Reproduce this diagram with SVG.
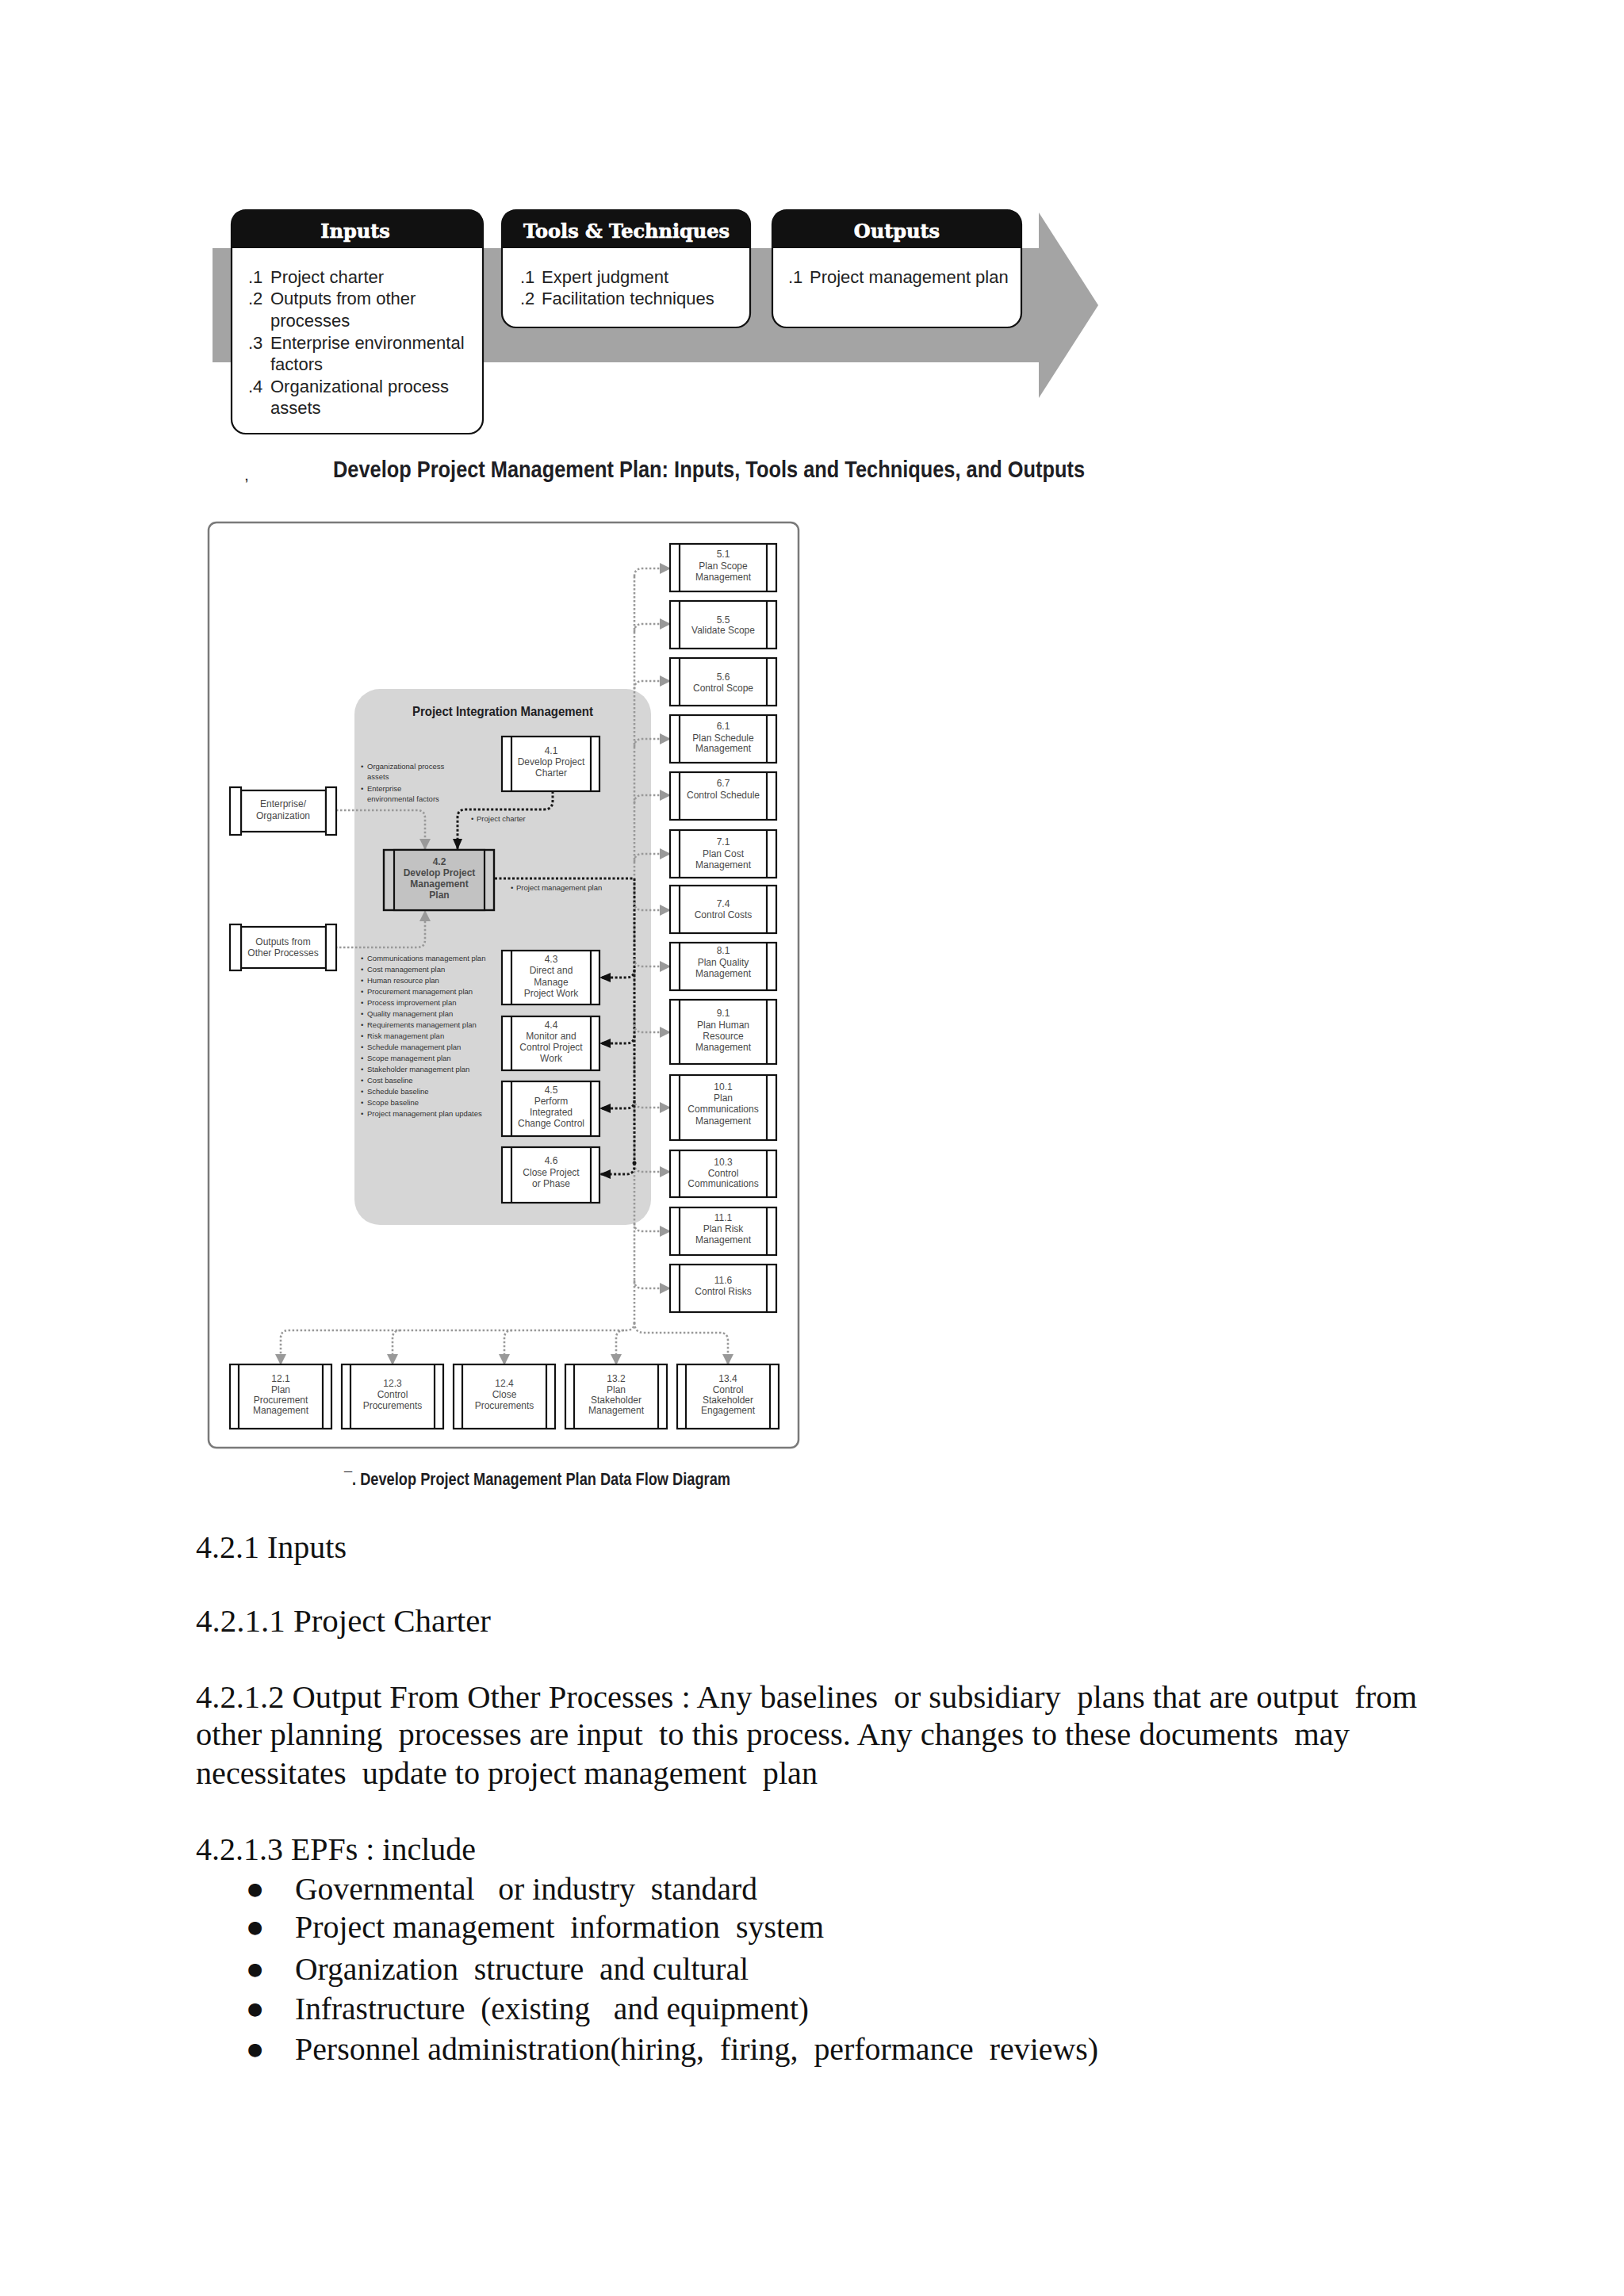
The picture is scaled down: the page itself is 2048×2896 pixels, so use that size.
<svg xmlns="http://www.w3.org/2000/svg" width="2048" height="2896" viewBox="0 0 2048 2896">
<style>
.hdr{font-family:"DejaVu Serif",serif;font-weight:bold;font-size:24px;fill:#fff;stroke:#fff;stroke-width:0.7;text-anchor:middle}
.ito{font-family:"Liberation Sans",Arial,sans-serif;font-size:22px;fill:#222}
.cap{font-family:"Liberation Sans",Arial,sans-serif;font-weight:bold;fill:#1e1e24}
.box{fill:#fff;stroke:#111;stroke-width:2.2}
.bar{stroke:#111;stroke-width:2.2}
.bt{font-family:"Liberation Sans",Arial,sans-serif;font-size:12px;fill:#4a4a4a;text-anchor:middle}
.lb{font-family:"Liberation Sans",Arial,sans-serif;font-size:9.5px;fill:#333}
.gd{fill:none;stroke:#999;stroke-width:2.6;stroke-dasharray:2.5 2.5}
.bd{fill:none;stroke:#1a1a1a;stroke-width:3;stroke-dasharray:3 2.5}
.body{font-family:"Liberation Serif","Times New Roman",serif;font-size:39px;fill:#111;white-space:pre}
.bul{font-family:"DejaVu Sans",sans-serif;font-size:22px;fill:#111}
</style>
<defs>
<marker id="ag" markerUnits="userSpaceOnUse" markerWidth="14" markerHeight="14" refX="13" refY="7" orient="auto"><path d="M0,0 L14,7 L0,14 Z" fill="#999"/></marker>
<marker id="ab" markerUnits="userSpaceOnUse" markerWidth="14" markerHeight="14" refX="13" refY="7" orient="auto"><path d="M0,1 L14,7 L0,13 Z" fill="#111"/></marker>
</defs>
<rect width="2048" height="2896" fill="#fff"/>

<!-- ITO diagram -->
<g id="ito-arrow">
<rect x="268" y="313" width="1045" height="144" fill="#a4a4a4"/>
<polygon points="1310,268 1385,385 1310,502" fill="#a4a4a4"/>
</g>
<g id="ito-inputs">
<rect x="292" y="265" width="317" height="282" rx="18" class="box" stroke-width="2.5"/>
<path d="M292,313 V283 Q292,265 310,265 H591 Q609,265 609,283 V313 Z" fill="#111"/>
<text x="448" y="300" class="hdr">Inputs</text>
<text class="ito"><tspan x="313" y="357">.1</tspan><tspan x="341" y="357">Project charter</tspan><tspan x="313" y="384">.2</tspan><tspan x="341" y="384">Outputs from other</tspan><tspan x="341" y="412">processes</tspan><tspan x="313" y="440">.3</tspan><tspan x="341" y="440">Enterprise environmental</tspan><tspan x="341" y="467">factors</tspan><tspan x="313" y="495">.4</tspan><tspan x="341" y="495">Organizational process</tspan><tspan x="341" y="522">assets</tspan></text>
</g>
<g id="ito-tools">
<rect x="633" y="265" width="313" height="148" rx="18" class="box" stroke-width="2.5"/>
<path d="M633,313 V283 Q633,265 651,265 H928 Q946,265 946,283 V313 Z" fill="#111"/>
<text x="790" y="300" class="hdr">Tools &amp; Techniques</text>
<text class="ito"><tspan x="656" y="357">.1</tspan><tspan x="683" y="357">Expert judgment</tspan><tspan x="656" y="384">.2</tspan><tspan x="683" y="384">Facilitation techniques</tspan></text>
</g>
<g id="ito-outputs">
<rect x="974" y="265" width="314" height="148" rx="18" class="box" stroke-width="2.5"/>
<path d="M974,313 V283 Q974,265 992,265 H1270 Q1288,265 1288,283 V313 Z" fill="#111"/>
<text x="1131" y="300" class="hdr">Outputs</text>
<text class="ito"><tspan x="994" y="357">.1</tspan><tspan x="1021" y="357">Project management plan</tspan></text>
</g>
<text x="309" y="606" class="cap" font-size="14">,</text>
<text x="420" y="602" class="cap" font-size="30" textLength="948" lengthAdjust="spacingAndGlyphs">Develop Project Management Plan: Inputs, Tools and Techniques, and Outputs</text>

<!-- Data flow diagram -->
<rect id="dfd-frame" x="263" y="659" width="744" height="1167" rx="10" fill="#fff" stroke="#7a7a7a" stroke-width="2.5"/>
<g id="pim-region">
<rect x="447" y="869" width="374" height="676" rx="32" fill="#d6d6d6"/>
<text x="520" y="903" class="cap" font-size="17" textLength="228" lengthAdjust="spacingAndGlyphs" fill="#333">Project Integration Management</text>
</g>

<g id="connectors">
<path class="gd" d="M424,1022 H526 Q536,1022 536,1032 V1071" marker-end="url(#ag)"/>
<path class="gd" d="M423,1195 H526 Q536,1195 536,1185 V1149" marker-end="url(#ag)"/>
<path class="bd" d="M697,998 V1010 Q697,1021 686,1021 H587 Q577,1021 577,1031 V1071" marker-end="url(#ab)"/>
<path class="gd" d="M800,727 V1672"/>
<path class="bd" d="M624,1108 H800 V1467"/>
<circle cx="800" cy="1467" r="2.5" fill="#111"/>
<path class="gd" d="M800,727 Q800,717 810,717 H845" marker-end="url(#ag)"/>
<path class="gd" d="M800,797 Q800,787 810,787 H845" marker-end="url(#ag)"/>
<path class="gd" d="M800,869 Q800,859 810,859 H845" marker-end="url(#ag)"/>
<path class="gd" d="M800,942 Q800,932 810,932 H845" marker-end="url(#ag)"/>
<path class="gd" d="M800,1013 Q800,1003 810,1003 H845" marker-end="url(#ag)"/>
<path class="gd" d="M800,1087 Q800,1077 810,1077 H845" marker-end="url(#ag)"/>
<path class="gd" d="M800,1138 Q800,1148 810,1148 H845" marker-end="url(#ag)"/>
<path class="gd" d="M800,1209 Q800,1219 810,1219 H845" marker-end="url(#ag)"/>
<path class="gd" d="M800,1292 Q800,1302 810,1302 H845" marker-end="url(#ag)"/>
<path class="gd" d="M800,1387 Q800,1397 810,1397 H845" marker-end="url(#ag)"/>
<path class="gd" d="M800,1468 Q800,1478 810,1478 H845" marker-end="url(#ag)"/>
<path class="gd" d="M800,1543 Q800,1553 810,1553 H845" marker-end="url(#ag)"/>
<path class="gd" d="M800,1615 Q800,1625 810,1625 H845" marker-end="url(#ag)"/>
<path class="bd" d="M800,1223 Q800,1233 790,1233 H757" marker-end="url(#ab)"/>
<path class="bd" d="M800,1306 Q800,1316 790,1316 H757" marker-end="url(#ab)"/>
<path class="bd" d="M800,1388 Q800,1398 790,1398 H757" marker-end="url(#ab)"/>
<path class="bd" d="M800,1467 V1471 Q800,1481 790,1481 H757" marker-end="url(#ab)"/>
<path class="gd" d="M800,1668 Q800,1678 790,1678 H364 Q354,1678 354,1688 V1721" marker-end="url(#ag)"/>
<path class="gd" d="M505,1678 Q495,1678 495,1688 V1721" marker-end="url(#ag)"/>
<path class="gd" d="M646,1678 Q636,1678 636,1688 V1721" marker-end="url(#ag)"/>
<path class="gd" d="M787,1678 Q777,1678 777,1688 V1721" marker-end="url(#ag)"/>
<path class="gd" d="M800,1668 Q800,1681 812,1681 H908 Q918,1681 918,1691 V1721" marker-end="url(#ag)"/>
</g>

<g id="flow-labels">
<text class="lb"><tspan x="455" y="970">•</tspan><tspan x="463" y="970">Organizational process</tspan><tspan x="463" y="983">assets</tspan><tspan x="455" y="998">•</tspan><tspan x="463" y="998">Enterprise</tspan><tspan x="463" y="1011">environmental factors</tspan></text>
<text class="lb"><tspan x="594" y="1036">•</tspan><tspan x="601" y="1036">Project charter</tspan></text>
<text class="lb"><tspan x="644" y="1123">•</tspan><tspan x="651" y="1123">Project management plan</tspan></text>
<text class="lb">
<tspan x="455" y="1212">•</tspan><tspan x="463" y="1212">Communications management plan</tspan>
<tspan x="455" y="1226">•</tspan><tspan x="463" y="1226">Cost management plan</tspan>
<tspan x="455" y="1240">•</tspan><tspan x="463" y="1240">Human resource plan</tspan>
<tspan x="455" y="1254">•</tspan><tspan x="463" y="1254">Procurement management plan</tspan>
<tspan x="455" y="1268">•</tspan><tspan x="463" y="1268">Process improvement plan</tspan>
<tspan x="455" y="1282">•</tspan><tspan x="463" y="1282">Quality management plan</tspan>
<tspan x="455" y="1296">•</tspan><tspan x="463" y="1296">Requirements management plan</tspan>
<tspan x="455" y="1310">•</tspan><tspan x="463" y="1310">Risk management plan</tspan>
<tspan x="455" y="1324">•</tspan><tspan x="463" y="1324">Schedule management plan</tspan>
<tspan x="455" y="1338">•</tspan><tspan x="463" y="1338">Scope management plan</tspan>
<tspan x="455" y="1352">•</tspan><tspan x="463" y="1352">Stakeholder management plan</tspan>
<tspan x="455" y="1366">•</tspan><tspan x="463" y="1366">Cost baseline</tspan>
<tspan x="455" y="1380">•</tspan><tspan x="463" y="1380">Schedule baseline</tspan>
<tspan x="455" y="1394">•</tspan><tspan x="463" y="1394">Scope baseline</tspan>
<tspan x="455" y="1408">•</tspan><tspan x="463" y="1408">Project management plan updates</tspan>
</text>
</g>

<g id="ent-enterprise">
<rect x="304" y="997" width="107" height="52" class="box"/>
<rect x="290" y="993" width="14" height="60" class="box"/>
<rect x="411" y="993" width="13" height="60" class="box"/>
<text class="bt"><tspan x="357" y="1018">Enterprise/</tspan><tspan x="357" y="1033">Organization</tspan></text>
</g>
<g id="ent-outputs">
<rect x="304" y="1169" width="107" height="52" class="box"/>
<rect x="290" y="1166" width="14" height="58" class="box"/>
<rect x="411" y="1166" width="13" height="58" class="box"/>
<text class="bt"><tspan x="357" y="1192">Outputs from</tspan><tspan x="357" y="1206">Other Processes</tspan></text>
</g>

<g id="p4-1"><rect x="633" y="929" width="123" height="69" class="box"/><line x1="645" y1="929" x2="645" y2="998" class="bar"/><line x1="745" y1="929" x2="745" y2="998" class="bar"/>
<text class="bt"><tspan x="695" y="951">4.1</tspan><tspan x="695" y="965">Develop Project</tspan><tspan x="695" y="979">Charter</tspan></text></g>
<g id="p4-2"><rect x="484" y="1072" width="139" height="76" fill="#cdcdcd" stroke="#111" stroke-width="2.4"/><rect x="497" y="1072" width="114" height="76" fill="#c2c2c2" stroke="#111" stroke-width="2.2"/>
<text class="bt" font-weight="bold" fill="#333"><tspan x="554" y="1091">4.2</tspan><tspan x="554" y="1105">Develop Project</tspan><tspan x="554" y="1119">Management</tspan><tspan x="554" y="1133">Plan</tspan></text></g>
<g id="p4-3"><rect x="633" y="1199" width="123" height="68" class="box"/><line x1="645" y1="1199" x2="645" y2="1267" class="bar"/><line x1="745" y1="1199" x2="745" y2="1267" class="bar"/>
<text class="bt"><tspan x="695" y="1214">4.3</tspan><tspan x="695" y="1228">Direct and</tspan><tspan x="695" y="1243">Manage</tspan><tspan x="695" y="1257">Project Work</tspan></text></g>
<g id="p4-4"><rect x="633" y="1282" width="123" height="68" class="box"/><line x1="645" y1="1282" x2="645" y2="1350" class="bar"/><line x1="745" y1="1282" x2="745" y2="1350" class="bar"/>
<text class="bt"><tspan x="695" y="1297">4.4</tspan><tspan x="695" y="1311">Monitor and</tspan><tspan x="695" y="1325">Control Project</tspan><tspan x="695" y="1339">Work</tspan></text></g>
<g id="p4-5"><rect x="633" y="1364" width="123" height="69" class="box"/><line x1="645" y1="1364" x2="645" y2="1433" class="bar"/><line x1="745" y1="1364" x2="745" y2="1433" class="bar"/>
<text class="bt"><tspan x="695" y="1379">4.5</tspan><tspan x="695" y="1393">Perform</tspan><tspan x="695" y="1407">Integrated</tspan><tspan x="695" y="1421">Change Control</tspan></text></g>
<g id="p4-6"><rect x="633" y="1447" width="123" height="70" class="box"/><line x1="645" y1="1447" x2="645" y2="1517" class="bar"/><line x1="745" y1="1447" x2="745" y2="1517" class="bar"/>
<text class="bt"><tspan x="695" y="1468">4.6</tspan><tspan x="695" y="1483">Close Project</tspan><tspan x="695" y="1497">or Phase</tspan></text></g>

<g id="p5-1"><rect x="845" y="686" width="134" height="60" class="box"/><line x1="857" y1="686" x2="857" y2="746" class="bar"/><line x1="967" y1="686" x2="967" y2="746" class="bar"/>
<text class="bt"><tspan x="912" y="703">5.1</tspan><tspan x="912" y="718">Plan Scope</tspan><tspan x="912" y="732">Management</tspan></text></g>
<g id="p5-5"><rect x="845" y="758" width="134" height="60" class="box"/><line x1="857" y1="758" x2="857" y2="818" class="bar"/><line x1="967" y1="758" x2="967" y2="818" class="bar"/>
<text class="bt"><tspan x="912" y="786">5.5</tspan><tspan x="912" y="799">Validate Scope</tspan></text></g>
<g id="p5-6"><rect x="845" y="830" width="134" height="60" class="box"/><line x1="857" y1="830" x2="857" y2="890" class="bar"/><line x1="967" y1="830" x2="967" y2="890" class="bar"/>
<text class="bt"><tspan x="912" y="858">5.6</tspan><tspan x="912" y="872">Control Scope</tspan></text></g>
<g id="p6-1"><rect x="845" y="902" width="134" height="60" class="box"/><line x1="857" y1="902" x2="857" y2="962" class="bar"/><line x1="967" y1="902" x2="967" y2="962" class="bar"/>
<text class="bt"><tspan x="912" y="920">6.1</tspan><tspan x="912" y="935">Plan Schedule</tspan><tspan x="912" y="948">Management</tspan></text></g>
<g id="p6-7"><rect x="845" y="974" width="134" height="60" class="box"/><line x1="857" y1="974" x2="857" y2="1034" class="bar"/><line x1="967" y1="974" x2="967" y2="1034" class="bar"/>
<text class="bt"><tspan x="912" y="992">6.7</tspan><tspan x="912" y="1007">Control Schedule</tspan></text></g>
<g id="p7-1"><rect x="845" y="1047" width="134" height="60" class="box"/><line x1="857" y1="1047" x2="857" y2="1107" class="bar"/><line x1="967" y1="1047" x2="967" y2="1107" class="bar"/>
<text class="bt"><tspan x="912" y="1066">7.1</tspan><tspan x="912" y="1081">Plan Cost</tspan><tspan x="912" y="1095">Management</tspan></text></g>
<g id="p7-4"><rect x="845" y="1117" width="134" height="60" class="box"/><line x1="857" y1="1117" x2="857" y2="1177" class="bar"/><line x1="967" y1="1117" x2="967" y2="1177" class="bar"/>
<text class="bt"><tspan x="912" y="1144">7.4</tspan><tspan x="912" y="1158">Control Costs</tspan></text></g>
<g id="p8-1"><rect x="845" y="1189" width="134" height="60" class="box"/><line x1="857" y1="1189" x2="857" y2="1249" class="bar"/><line x1="967" y1="1189" x2="967" y2="1249" class="bar"/>
<text class="bt"><tspan x="912" y="1203">8.1</tspan><tspan x="912" y="1218">Plan Quality</tspan><tspan x="912" y="1232">Management</tspan></text></g>
<g id="p9-1"><rect x="845" y="1261" width="134" height="81" class="box"/><line x1="857" y1="1261" x2="857" y2="1342" class="bar"/><line x1="967" y1="1261" x2="967" y2="1342" class="bar"/>
<text class="bt"><tspan x="912" y="1282">9.1</tspan><tspan x="912" y="1297">Plan Human</tspan><tspan x="912" y="1311">Resource</tspan><tspan x="912" y="1325">Management</tspan></text></g>
<g id="p10-1"><rect x="845" y="1356" width="134" height="82" class="box"/><line x1="857" y1="1356" x2="857" y2="1438" class="bar"/><line x1="967" y1="1356" x2="967" y2="1438" class="bar"/>
<text class="bt"><tspan x="912" y="1375">10.1</tspan><tspan x="912" y="1389">Plan</tspan><tspan x="912" y="1403">Communications</tspan><tspan x="912" y="1418">Management</tspan></text></g>
<g id="p10-3"><rect x="845" y="1451" width="134" height="59" class="box"/><line x1="857" y1="1451" x2="857" y2="1510" class="bar"/><line x1="967" y1="1451" x2="967" y2="1510" class="bar"/>
<text class="bt"><tspan x="912" y="1470">10.3</tspan><tspan x="912" y="1484">Control</tspan><tspan x="912" y="1497">Communications</tspan></text></g>
<g id="p11-1"><rect x="845" y="1523" width="134" height="60" class="box"/><line x1="857" y1="1523" x2="857" y2="1583" class="bar"/><line x1="967" y1="1523" x2="967" y2="1583" class="bar"/>
<text class="bt"><tspan x="912" y="1540">11.1</tspan><tspan x="912" y="1554">Plan Risk</tspan><tspan x="912" y="1568">Management</tspan></text></g>
<g id="p11-6"><rect x="845" y="1595" width="134" height="60" class="box"/><line x1="857" y1="1595" x2="857" y2="1655" class="bar"/><line x1="967" y1="1595" x2="967" y2="1655" class="bar"/>
<text class="bt"><tspan x="912" y="1619">11.6</tspan><tspan x="912" y="1633">Control Risks</tspan></text></g>

<g id="p12-1"><rect x="290" y="1721" width="128" height="81" class="box"/><line x1="301" y1="1721" x2="301" y2="1802" class="bar"/><line x1="407" y1="1721" x2="407" y2="1802" class="bar"/>
<text class="bt"><tspan x="354" y="1743">12.1</tspan><tspan x="354" y="1757">Plan</tspan><tspan x="354" y="1770">Procurement</tspan><tspan x="354" y="1783">Management</tspan></text></g>
<g id="p12-3"><rect x="431" y="1721" width="128" height="81" class="box"/><line x1="442" y1="1721" x2="442" y2="1802" class="bar"/><line x1="548" y1="1721" x2="548" y2="1802" class="bar"/>
<text class="bt"><tspan x="495" y="1749">12.3</tspan><tspan x="495" y="1763">Control</tspan><tspan x="495" y="1777">Procurements</tspan></text></g>
<g id="p12-4"><rect x="572" y="1721" width="128" height="81" class="box"/><line x1="583" y1="1721" x2="583" y2="1802" class="bar"/><line x1="689" y1="1721" x2="689" y2="1802" class="bar"/>
<text class="bt"><tspan x="636" y="1749">12.4</tspan><tspan x="636" y="1763">Close</tspan><tspan x="636" y="1777">Procurements</tspan></text></g>
<g id="p13-2"><rect x="713" y="1721" width="128" height="81" class="box"/><line x1="724" y1="1721" x2="724" y2="1802" class="bar"/><line x1="830" y1="1721" x2="830" y2="1802" class="bar"/>
<text class="bt"><tspan x="777" y="1743">13.2</tspan><tspan x="777" y="1757">Plan</tspan><tspan x="777" y="1770">Stakeholder</tspan><tspan x="777" y="1783">Management</tspan></text></g>
<g id="p13-4"><rect x="854" y="1721" width="128" height="81" class="box"/><line x1="865" y1="1721" x2="865" y2="1802" class="bar"/><line x1="971" y1="1721" x2="971" y2="1802" class="bar"/>
<text class="bt"><tspan x="918" y="1743">13.4</tspan><tspan x="918" y="1757">Control</tspan><tspan x="918" y="1770">Stakeholder</tspan><tspan x="918" y="1783">Engagement</tspan></text></g>

<text x="434" y="1873" class="cap" font-size="22" textLength="487" lengthAdjust="spacingAndGlyphs">¯. Develop Project Management Plan Data Flow Diagram</text>

<g id="body-text">
<text x="247" y="1965" class="body" textLength="190" lengthAdjust="spacingAndGlyphs">4.2.1 Inputs</text>
<text x="247" y="2058" class="body" textLength="372" lengthAdjust="spacingAndGlyphs">4.2.1.1 Project Charter</text>
<text x="247" y="2154" class="body" textLength="1540" lengthAdjust="spacingAndGlyphs">4.2.1.2 Output From Other Processes : Any baselines  or subsidiary  plans that are output  from</text>
<text x="247" y="2201" class="body" textLength="1455" lengthAdjust="spacingAndGlyphs">other planning  processes are input  to this process. Any changes to these documents  may</text>
<text x="247" y="2250" class="body" textLength="784" lengthAdjust="spacingAndGlyphs">necessitates  update to project management  plan</text>
<text x="247" y="2346" class="body" textLength="353" lengthAdjust="spacingAndGlyphs">4.2.1.3 EPFs : include</text>
<text x="312" y="2390" class="bul">●</text>
<text x="372" y="2396" class="body" textLength="583" lengthAdjust="spacingAndGlyphs">Governmental   or industry  standard</text>
<text x="312" y="2438" class="bul">●</text>
<text x="372" y="2444" class="body" textLength="667" lengthAdjust="spacingAndGlyphs">Project management  information  system</text>
<text x="312" y="2491" class="bul">●</text>
<text x="372" y="2497" class="body" textLength="572" lengthAdjust="spacingAndGlyphs">Organization  structure  and cultural</text>
<text x="312" y="2541" class="bul">●</text>
<text x="372" y="2547" class="body" textLength="648" lengthAdjust="spacingAndGlyphs">Infrastructure  (existing   and equipment)</text>
<text x="312" y="2592" class="bul">●</text>
<text x="372" y="2598" class="body" textLength="1013" lengthAdjust="spacingAndGlyphs">Personnel administration(hiring,  firing,  performance  reviews)</text>
</g>
</svg>
